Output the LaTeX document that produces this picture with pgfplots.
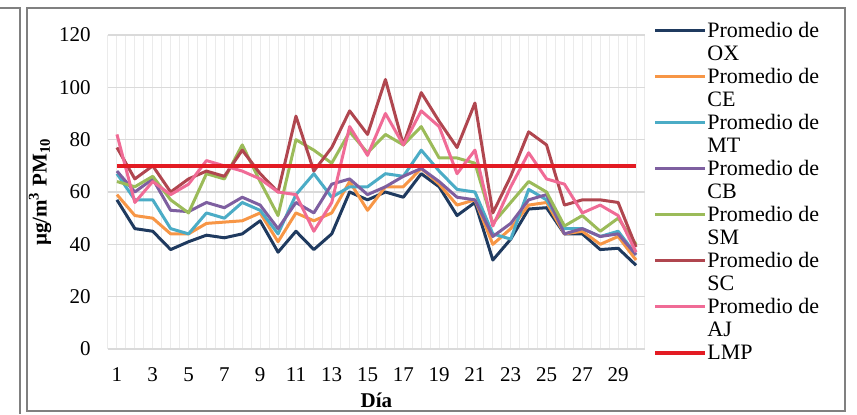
\documentclass[border=0pt]{standalone}
\usepackage{fontspec}
\setmainfont{Liberation Serif}
\usepackage{pgfplots}
\pgfplotsset{compat=1.18}
\pgfplotsset{
  raisedlegend/.style={legend image code/.code={\draw[##1] (0pt,6.5pt) -- (25pt,6.5pt);}},
  flatlegend/.style={legend image code/.code={\draw[##1] (0pt,0pt) -- (25pt,0pt);}},
}
\definecolor{cOX}{HTML}{1F3A5F}
\definecolor{cCE}{HTML}{F79646}
\definecolor{cMT}{HTML}{4BACC6}
\definecolor{cCB}{HTML}{7E5FA0}
\definecolor{cSM}{HTML}{9BBB59}
\definecolor{cSC}{HTML}{B0464F}
\definecolor{cAJ}{HTML}{F06B96}
\definecolor{cLMP}{HTML}{E31B23}
\definecolor{gridc}{HTML}{DADADA}
\definecolor{vgridc}{HTML}{EBEBEB}
\definecolor{framec}{HTML}{808080}
\begin{document}
\fontsize{10.5}{11.3}\selectfont
\begin{tikzpicture}[x=1pt,y=1pt]
\begin{axis}[
  at={(0,0)}, anchor=south west, scale only axis,
  width=268.5pt, height=157pt,
  xmin=0.5, xmax=30.5, ymin=0, ymax=120,
  xtick={1,3,...,29}, ytick={0,20,...,120},
  minor xtick={0.5,1,...,30.5},
  xmajorgrids=false, xminorgrids=true, ymajorgrids=true,
  minor grid style={vgridc, line width=0.5pt},
  major grid style={gridc, line width=0.6pt},
  axis line style={draw=none},
  major tick length=0pt, minor tick length=0pt,
  tick style={draw=none},
  /pgf/number format/assume math mode=true,
  xticklabel style={yshift=-5.5pt, font=\fontsize{10.5}{11.3}\selectfont},
  yticklabel style={xshift=-5pt, font=\fontsize{10.5}{11.3}\selectfont},
  xlabel={\textbf{Día}},
  xlabel style={at={(axis description cs:0.5,0)}, anchor=center, yshift=-25.5pt},
  ylabel={\textbf{µg/m\textsuperscript{3} PM\textsubscript{10}}},
  ylabel style={at={(axis description cs:-0.1266,0.5)}, anchor=center},
  every axis plot/.append style={line width=1.5pt, no markers, line join=round},
  raisedlegend,
  legend cell align=left,
  legend style={at={(axis description cs:1.0149,1.041)}, anchor=north west,
    draw=none, fill=none, inner sep=0pt, row sep=2.5pt, column sep=0pt,
    nodes={align=left, inner sep=0pt},
    font=\fontsize{11}{11.3}\selectfont},
]
\addplot[cOX] coordinates {(1,57)(2,46)(3,45)(4,38)(5,41)(6,43.5)(7,42.5)(8,44)(9,49)(10,37)(11,45)(12,38)(13,44)(14,60)(15,57)(16,60)(17,58)(18,67)(19,62)(20,51)(21,56)(22,34)(23,42)(24,53.5)(25,54)(26,44)(27,44)(28,38)(29,38.5)(30,32)};
\addlegendentry{Promedio de\\OX}
\addplot[cCE] coordinates {(1,59)(2,51)(3,50)(4,44)(5,44)(6,48)(7,48.5)(8,49)(9,52)(10,41)(11,52)(12,49)(13,52)(14,64)(15,53)(16,62)(17,62)(18,69)(19,63)(20,55)(21,57)(22,40)(23,46)(24,55)(25,56)(26,44)(27,45)(28,40)(29,43)(30,34)};
\addlegendentry{Promedio de\\CE}
\addplot[cMT] coordinates {(1,67)(2,57)(3,57)(4,46)(5,44)(6,52)(7,50)(8,56)(9,53)(10,44)(11,59)(12,67)(13,58)(14,62)(15,62)(16,67)(17,66)(18,76)(19,68)(20,61)(21,60)(22,44)(23,42)(24,61)(25,57)(26,46)(27,46)(28,43)(29,45)(30,36)};
\addlegendentry{Promedio de\\MT}
\addplot[cCB] coordinates {(1,68)(2,60)(3,65)(4,53)(5,52.5)(6,56)(7,54)(8,58)(9,55)(10,46)(11,56)(12,52)(13,63)(14,65)(15,59)(16,62)(17,66)(18,69)(19,64)(20,58)(21,57)(22,43)(23,48)(24,57)(25,59)(26,44)(27,46)(28,43)(29,44)(30,36)};
\addlegendentry{Promedio de\\CB}
\addplot[cSM] coordinates {(1,64)(2,62)(3,66)(4,57)(5,52)(6,67)(7,65)(8,78)(9,64)(10,51)(11,80)(12,76)(13,71)(14,83)(15,75)(16,82)(17,78)(18,85)(19,73)(20,73)(21,71)(22,48)(23,56)(24,64)(25,60)(26,47)(27,51)(28,45)(29,50)(30,40)};
\addlegendentry{Promedio de\\SM}
\addplot[cSC] coordinates {(1,77)(2,65)(3,70)(4,60)(5,65)(6,68)(7,66)(8,76)(9,67)(10,60)(11,89)(12,68)(13,77)(14,91)(15,82)(16,103)(17,78)(18,98)(19,87)(20,77)(21,94)(22,52)(23,66)(24,83)(25,78)(26,55)(27,57)(28,57)(29,56)(30,39)};
\addlegendentry{Promedio de\\SC}
\addplot[cAJ] coordinates {(1,82)(2,56)(3,64)(4,59)(5,63)(6,72)(7,70)(8,68)(9,65)(10,60)(11,59)(12,45)(13,56)(14,85)(15,74)(16,90)(17,78)(18,91)(19,85)(20,67)(21,76)(22,47)(23,62)(24,75)(25,65)(26,63)(27,52)(28,55)(29,51)(30,37)};
\addlegendentry{Promedio de\\AJ}
\addplot[cLMP, line width=2pt, flatlegend] coordinates {(1,70)(2,70)(3,70)(4,70)(5,70)(6,70)(7,70)(8,70)(9,70)(10,70)(11,70)(12,70)(13,70)(14,70)(15,70)(16,70)(17,70)(18,70)(19,70)(20,70)(21,70)(22,70)(23,70)(24,70)(25,70)(26,70)(27,70)(28,70)(29,70)(30,70)};
\addlegendentry{LMP}
\end{axis}
\draw[framec, line width=1pt] (-40.5,-31) rectangle (368.5,170.5);
\draw[framec, line width=1pt] (-54,170.5) -- (-44,170.5) -- (-44,-32.5);
\pgfresetboundingbox
\useasboundingbox (-54,-32.5) rectangle (374.5,174.5);
\end{tikzpicture}
\end{document}
